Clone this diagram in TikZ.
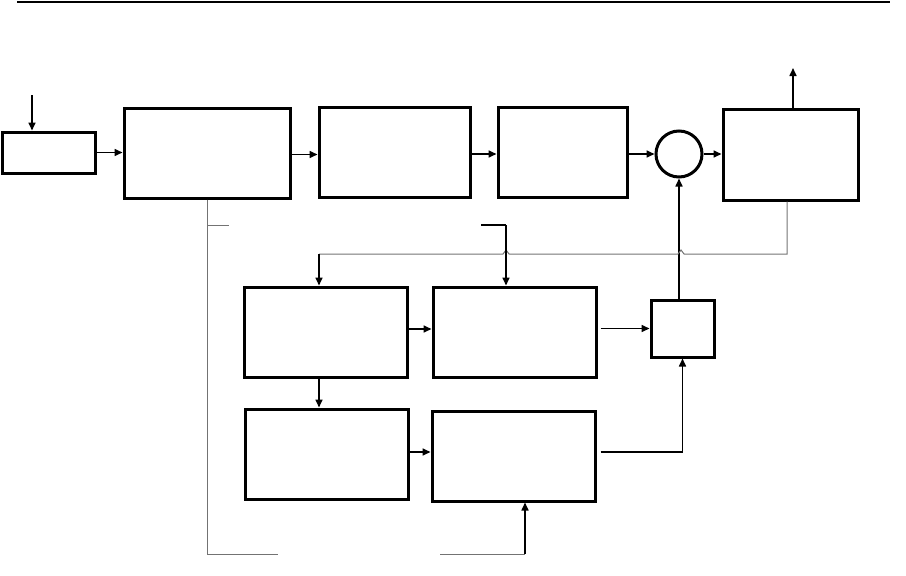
\documentclass[tikz,border=0pt]{standalone}
\usetikzlibrary{arrows.meta}
\begin{document}
\begin{tikzpicture}[x=1pt,y=-1pt,
 blk/.style={draw,line width=3pt,rectangle,inner sep=0pt},
 sumc/.style={draw,line width=3pt,circle,inner sep=0pt,minimum size=46pt},
 conn/.style={line width=1.6pt,-{Triangle[length=8pt,width=7pt]}},
 plain/.style={line width=1.3pt},
 fb/.style={line width=1pt,draw=black!55}]
\useasboundingbox (0,0) rectangle (906,576);
\coordinate (t1) at (17,1.5);
\coordinate (t2) at (890,1.5);
\draw[line width=2pt] (t1) -- (t2);
% blocks
\node[blk,minimum width=93pt,minimum height=41pt] (A) at (48.5,152.5) {};
\node[blk,minimum width=166pt,minimum height=90pt] (B) at (207,153) {};
\node[blk,minimum width=151pt,minimum height=90pt] (C) at (394.5,152) {};
\node[blk,minimum width=129pt,minimum height=90pt] (D) at (562.5,152) {};
\node[sumc] (S) at (679,154) {};
\node[blk,minimum width=135pt,minimum height=91pt] (E) at (790.5,154.5) {};
\node[blk,minimum width=163pt,minimum height=90pt] (G) at (325.5,332) {};
\node[blk,minimum width=163pt,minimum height=90pt] (H) at (514.5,332) {};
\node[blk,minimum width=163pt,minimum height=90pt] (I) at (326.5,454) {};
\node[blk,minimum width=163pt,minimum height=90pt] (J) at (513.5,456) {};
\node[blk,minimum width=63pt,minimum height=57pt] (K) at (682.5,328.5) {};
% main path
\coordinate (inA) at (32,95);
\draw[conn] (inA) -- (inA |- A.north);
\draw[conn] (A.east) -- (A.east -| B.west);
\draw[conn] ([yshift=-1.5pt]B.east) -- ([yshift=-1.5pt]B.east -| C.west);
\draw[conn] ([yshift=-2pt]C.east) -- ([yshift=-2pt]C.east -| D.west);
\draw[conn] (D.east |- S) -- (S.west);
\draw[conn] (S.east) -- (S.east -| E.west);
\coordinate (out) at (793,68);
\draw[conn] (E.north -| out) -- (out);
\draw[conn] (S.south |- K.north) -- (S.south);
% lower part
\coordinate (gx) at (319,0);
\draw[conn] (G.south -| gx) -- (I.north -| gx);
\draw[conn] ([yshift=3pt]G.east) -- ([yshift=3pt]G.east -| H.west);
\draw[conn] ([yshift=2pt]I.east) -- ([yshift=2pt]I.east -| J.west);
\draw[conn] ([xshift=3pt]H.east |- K.west) -- (K.west);
\draw[conn] ([xshift=4pt,yshift=4pt]J.east) -| (K.south);
% feedback from E
\coordinate (f1) at (787,254);
\coordinate (g1) at (319,254);
\draw[fb] (E.south -| f1) -- (f1) -- (684,254) -- (681,250) -- (678,254)
  -- (509,254) -- (506,250) -- (503,254) -- (g1);
\draw[conn] (g1) -- (g1 |- G.north);
% branch from B
\coordinate (b1) at (207,225);
\coordinate (b2) at (229,225);
\coordinate (b3) at (481,225);
\coordinate (b4) at (506,225);
\coordinate (b5) at (207,554);
\coordinate (b6) at (278,554);
\coordinate (b7) at (440,554);
\coordinate (b8) at (525,554);
\draw[fb] (B.south -| b1) -- (b5) -- (b6);
\draw[fb] (b1) -- (b2);
\draw[plain] (b3) -- (b4);
\draw[conn] (b4) -- (b4 |- H.north);
\draw[fb] (b7) -- (b8);
\draw[conn] (b8) -- (b8 |- J.south);
\end{tikzpicture}
\end{document}
